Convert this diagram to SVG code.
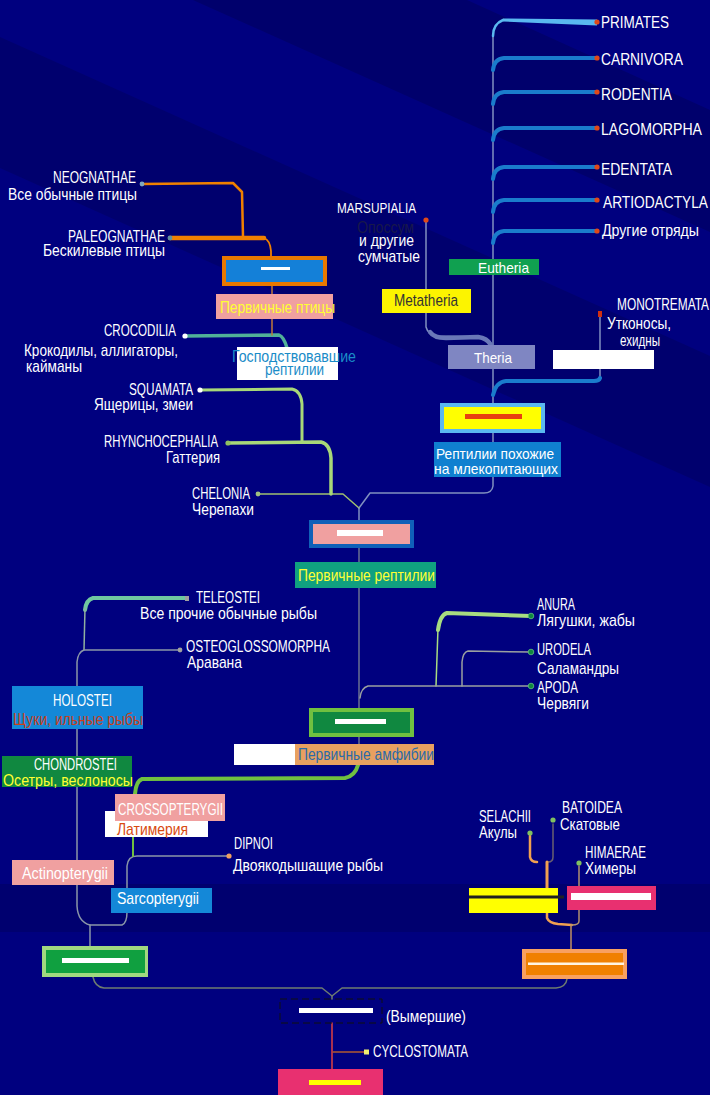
<svg xmlns="http://www.w3.org/2000/svg" width="710" height="1095" viewBox="0 0 710 1095">
<style>
text { font-family: "Liberation Sans", Arial, sans-serif; font-size: 17px; fill: #ffffff; }
.y { fill: #ffff33; }
.s15 { font-size: 15px; }
.c { fill: none; stroke-linecap: round; stroke-linejoin: round; }
.g { stroke: #8090c0; stroke-width: 1.5; }
.mb { stroke: #1a7ccc; stroke-width: 4; }
.fg { stroke: #8a96a8; stroke-width: 1.5; }
.rd { fill: #e04818; }
.wb { fill: #ffffff; }
</style>
<defs>
<g id="mdot"><circle r="2.6" class="rd"/></g>
</defs>
<g id="background">
<rect width="710" height="1095" fill="#00007f"/>
<polygon points="467,0 710,110 710,232 193,0" fill="#00006c"/>
<polygon points="0,37 710,356 710,487 0,168" fill="#00006e"/>
<rect x="0" y="884" width="710" height="48" fill="#00006f"/>
</g>
<g id="connectors" class="c">
<path class="g" d="M493,34 L493,405"/>
<path d="M493,36 Q493,24 503,20" stroke="#5ab8f0" stroke-width="2.5"/>
<polygon points="503,18.5 597,19.5 597,25.5 503,21.5" fill="#5ab8f0" stroke="none"/>
<path class="mb" d="M493,70 Q494,59 504,58 L597,58"/>
<path class="mb" d="M493,104 Q494,93 504,92 L597,92"/>
<path class="mb" d="M493,140 Q494,129 504,128 L597,128"/>
<path class="mb" d="M493,179 Q494,168 504,167 L597,167"/>
<path class="mb" d="M493,212 Q494,201 504,200 L597,200"/>
<path class="mb" d="M493,243 Q494,232 504,231 L597,231"/>
<path class="g" d="M426,220 L426,327 Q428,335 438,336 L480,337 Q489,338 493,347"/>
<path d="M430,332 Q434,338 446,338 L478,337 Q487,338 491,345" stroke="#6a78b8" stroke-width="4.5"/>
<path class="g" d="M600,316 L600,378"/>
<path class="mb" d="M600,378 Q599,381 594,381 L506,381 Q496,382 493,395"/>
<path class="g" d="M493,433 L493,486 Q492,493 484,493 L370,493 L359,508"/>
<path d="M258,494 L343,494 L359,508" stroke="#a0c070" stroke-width="1.5"/>
<path class="g" d="M359,508 L359,520"/>
<path d="M359,548 L359,744" stroke="#6a7090" stroke-width="1.5"/>
<path d="M200,390 L292,389 Q301,391 302,404 L302,442" stroke="#a8d878" stroke-width="3"/>
<path d="M228,443 L321,442 Q330,444 331,458 L331,494" stroke="#a8d878" stroke-width="3.5"/>
<path d="M185,336 L279,335 Q284,337 287,348" stroke="#50b098" stroke-width="3.5"/>
<path d="M142,184 L233,183 L242,192 L243,237" stroke="#f08000" stroke-width="2.5"/>
<path d="M170,238 L264,238" stroke="#f08000" stroke-width="4.5"/>
<path d="M264,238 Q270,240 271,251 L271,256" stroke="#f08000" stroke-width="1.8"/>
<path d="M272,286 L272,335" stroke="#c07838" stroke-width="1.5"/>
<path d="M187,598 L93,598 Q86,600 85,610" stroke="#70c8a0" stroke-width="4"/>
<path d="M85,608 L84,650" stroke="#90b0a0" stroke-width="1.5"/>
<path class="fg" d="M180,650 L84,650 Q78,652 77,662 L77,906 Q78,922 90,925 L122,925 Q127,923 127,912 L127,866 Q128,856 137,856 L229,856"/>
<path class="fg" d="M90,925 L90,946"/>
<path d="M358,765 Q355,776 345,778 L142,779 Q136,781 135,794" stroke="#70c040" stroke-width="4"/>
<path d="M133,837 L133,856" stroke="#70c040" stroke-width="2"/>
<path d="M93,977 Q95,987 104,988 L322,988 L332,996 L342,988 L556,988 Q566,987 567,979" stroke="#6f7c70" stroke-width="1.5"/>
<path d="M332,996 L332,999" stroke="#6f7c70" stroke-width="1.5"/>
<path d="M332,1023 L332,1069" stroke="#e04040" stroke-width="1.5"/>
<path d="M333,1052 L366,1052" stroke="#b05a30" stroke-width="1.5"/>
<path d="M530,836 L530,857 Q531,862 537,862" stroke="#f0a050" stroke-width="2.5"/>
<path d="M553,824 L553,857 Q553,862 548,862" stroke="#6a6070" stroke-width="1.5"/>
<path d="M547,862 L547,888" stroke="#f0a050" stroke-width="3"/>
<path d="M547,913 L547,918 Q549,923 558,924 L572,925" stroke="#f0a050" stroke-width="2.5"/>
<path d="M579,866 L579,886 M579,910 L579,921 Q579,925 572,925" stroke="#b09070" stroke-width="1.5"/>
<path d="M571,925 L571,949" stroke="#c09060" stroke-width="1.5"/>
<path d="M531,616 L447,613 Q440,615 438,630" stroke="#a8dc80" stroke-width="4"/>
<path d="M438,628 L436,686" stroke="#a8dc80" stroke-width="1.5"/>
<path d="M531,652 L468,651 Q463,652 462,662 L462,686" stroke="#9aa0a0" stroke-width="1.5"/>
<path d="M531,686 L368,686 Q361,688 360,698" stroke="#9aa0a0" stroke-width="1.5"/>
</g>
<g id="primates"><use href="#mdot" x="597" y="22"/><text x="601" y="28" textLength="68" lengthAdjust="spacingAndGlyphs">PRIMATES</text></g>
<g id="carnivora"><use href="#mdot" x="597" y="58"/><text x="601" y="65" textLength="82" lengthAdjust="spacingAndGlyphs">CARNIVORA</text></g>
<g id="rodentia"><use href="#mdot" x="597" y="92"/><text x="601" y="100" textLength="71" lengthAdjust="spacingAndGlyphs">RODENTIA</text></g>
<g id="lagomorpha"><use href="#mdot" x="597" y="128"/><text x="601" y="135" textLength="101" lengthAdjust="spacingAndGlyphs">LAGOMORPHA</text></g>
<g id="edentata"><use href="#mdot" x="597" y="167"/><text x="601" y="175" textLength="71" lengthAdjust="spacingAndGlyphs">EDENTATA</text></g>
<g id="artiodactyla"><use href="#mdot" x="597" y="200"/><text x="603" y="208" textLength="105" lengthAdjust="spacingAndGlyphs">ARTIODACTYLA</text></g>
<g id="other-orders"><use href="#mdot" x="597" y="231"/><text x="602" y="236" textLength="97" lengthAdjust="spacingAndGlyphs">Другие отряды</text></g>
<g id="marsupialia"><circle cx="426" cy="220" r="2.6" class="rd"/>
<text x="337" y="213" class="s15" textLength="79" lengthAdjust="spacingAndGlyphs">MARSUPIALIA</text>
<text x="357" y="233" textLength="57" lengthAdjust="spacingAndGlyphs" style="fill:#18184a">Опоссум</text>
<text x="359" y="246" textLength="55" lengthAdjust="spacingAndGlyphs">и другие</text>
<text x="358" y="262" textLength="62" lengthAdjust="spacingAndGlyphs">сумчатые</text></g>
<g id="eutheria"><rect x="449" y="259" width="90" height="16" fill="#10a050"/><text x="478" y="273" class="s15" textLength="51" lengthAdjust="spacingAndGlyphs">Eutheria</text></g>
<g id="metatheria"><rect x="382" y="289" width="89" height="24" fill="#fcf400"/><text x="394" y="306" textLength="64" lengthAdjust="spacingAndGlyphs" style="fill:#333333">Metatheria</text></g>
<g id="theria"><rect x="448" y="345" width="87" height="24" fill="#7f86c2"/><text x="474" y="363" class="s15" textLength="38" lengthAdjust="spacingAndGlyphs">Theria</text></g>
<g id="blank-mammal"><rect x="553" y="350" width="101" height="19" class="wb"/></g>
<g id="monotremata"><rect x="598" y="311" width="4" height="6" fill="#d03010"/>
<text x="617" y="310" textLength="92" lengthAdjust="spacingAndGlyphs">MONOTREMATA</text>
<text x="607" y="329" textLength="64" lengthAdjust="spacingAndGlyphs">Утконосы,</text>
<text x="620" y="346" textLength="40" lengthAdjust="spacingAndGlyphs">ехидны</text></g>
<g id="mammal-like-reptiles"><rect x="440" y="403" width="105" height="30" fill="#5ab8f0"/><rect x="444" y="407" width="97" height="22" fill="#ffff00"/><rect x="465" y="414" width="57" height="5" fill="#e84010"/>
<rect x="434" y="442" width="127" height="35" fill="#1080d0"/>
<text x="436" y="459" class="s15" textLength="118" lengthAdjust="spacingAndGlyphs">Рептилии похожие</text>
<text x="434" y="474" class="s15" textLength="124" lengthAdjust="spacingAndGlyphs">на млекопитающих</text></g>
<g id="neognathae"><circle cx="142" cy="184" r="2.4" fill="#80a8c0"/>
<text x="53" y="183" textLength="83" lengthAdjust="spacingAndGlyphs">NEOGNATHAE</text>
<text x="8" y="200" textLength="129" lengthAdjust="spacingAndGlyphs">Все обычные птицы</text></g>
<g id="paleognathae"><circle cx="170" cy="238" r="2.4" fill="#6090a0"/>
<text x="68" y="242" textLength="97" lengthAdjust="spacingAndGlyphs">PALEOGNATHAE</text>
<text x="43" y="256" textLength="122" lengthAdjust="spacingAndGlyphs">Бескилевые птицы</text></g>
<g id="birds"><rect x="222" y="256" width="105" height="30" fill="#e87800"/><rect x="226" y="260" width="97" height="22" fill="#1480d8"/><rect x="261" y="267" width="29" height="3" class="wb"/>
<rect x="216" y="294" width="117" height="25" fill="#f0a0a0"/>
<text x="220" y="313" class="y" textLength="115" lengthAdjust="spacingAndGlyphs">Первичные птицы</text></g>
<g id="crocodilia"><circle cx="185" cy="336" r="2.6" fill="#ffffff"/>
<text x="104" y="336" textLength="72" lengthAdjust="spacingAndGlyphs">CROCODILIA</text>
<text x="24" y="356" textLength="154" lengthAdjust="spacingAndGlyphs">Крокодилы, аллигаторы,</text>
<text x="26" y="372" textLength="56" lengthAdjust="spacingAndGlyphs">кайманы</text></g>
<g id="archosaurs"><rect x="237" y="347" width="101" height="33" class="wb"/>
<text x="232" y="362" textLength="124" lengthAdjust="spacingAndGlyphs" style="fill:#1a8cc8">Господствовавшие</text>
<text x="265" y="375" textLength="59" lengthAdjust="spacingAndGlyphs" style="fill:#1a8cc8">рептилии</text></g>
<g id="squamata"><circle cx="200" cy="390" r="2.6" fill="#ffffff"/>
<text x="129" y="395" textLength="64" lengthAdjust="spacingAndGlyphs">SQUAMATA</text>
<text x="94" y="410" textLength="99" lengthAdjust="spacingAndGlyphs">Ящерицы, змеи</text></g>
<g id="rhynchocephalia"><circle cx="228" cy="443" r="2.6" fill="#90c060"/>
<text x="104" y="447" textLength="114" lengthAdjust="spacingAndGlyphs">RHYNCHOCEPHALIA</text>
<text x="166" y="463" textLength="54" lengthAdjust="spacingAndGlyphs">Гаттерия</text></g>
<g id="chelonia"><circle cx="258" cy="494" r="2.4" fill="#a0c080"/>
<text x="192" y="499" textLength="58" lengthAdjust="spacingAndGlyphs">CHELONIA</text>
<text x="192" y="515" textLength="62" lengthAdjust="spacingAndGlyphs">Черепахи</text></g>
<g id="primitive-reptiles"><rect x="309" y="520" width="105" height="28" fill="#1060b8"/><rect x="313" y="524" width="97" height="20" fill="#f0a0a0"/><rect x="337" y="530" width="46" height="6" class="wb"/>
<rect x="295" y="562" width="141" height="26" fill="#10a080"/>
<text x="298" y="581" class="y" textLength="137" lengthAdjust="spacingAndGlyphs">Первичные рептилии</text></g>
<g id="teleostei"><rect x="185" y="596" width="4" height="5" fill="#a0a0a0"/>
<text x="196" y="603" textLength="64" lengthAdjust="spacingAndGlyphs">TELEOSTEI</text>
<text x="140" y="619" textLength="177" lengthAdjust="spacingAndGlyphs">Все прочие обычные рыбы</text></g>
<g id="osteoglossomorpha"><circle cx="180" cy="650" r="2.4" fill="#a0a0a0"/>
<text x="186" y="652" textLength="144" lengthAdjust="spacingAndGlyphs">OSTEOGLOSSOMORPHA</text>
<text x="187" y="668" textLength="55" lengthAdjust="spacingAndGlyphs">Аравана</text></g>
<g id="holostei"><rect x="12" y="686" width="131" height="43" fill="#1488d8"/>
<text x="53" y="706" textLength="59" lengthAdjust="spacingAndGlyphs">HOLOSTEI</text>
<text x="13" y="725" textLength="130" lengthAdjust="spacingAndGlyphs" style="fill:#c8401a">Щуки, ильные рыбы</text></g>
<g id="chondrostei"><rect x="2" y="756" width="130" height="31" fill="#108840"/>
<text x="34" y="770" textLength="83" lengthAdjust="spacingAndGlyphs">CHONDROSTEI</text>
<text x="3" y="786" class="y" textLength="130" lengthAdjust="spacingAndGlyphs">Осетры, веслоносы</text></g>
<g id="anura"><circle cx="531" cy="616" r="2.8" fill="#108840" stroke="#60c080" stroke-width="0.8"/>
<text x="537" y="610" textLength="38" lengthAdjust="spacingAndGlyphs">ANURA</text>
<text x="537" y="626" textLength="98" lengthAdjust="spacingAndGlyphs">Лягушки, жабы</text></g>
<g id="urodela"><circle cx="531" cy="652" r="2.8" fill="#108840" stroke="#60c080" stroke-width="0.8"/>
<text x="537" y="655" textLength="54" lengthAdjust="spacingAndGlyphs">URODELA</text>
<text x="537" y="674" textLength="82" lengthAdjust="spacingAndGlyphs">Саламандры</text></g>
<g id="apoda"><circle cx="531" cy="686" r="2.8" fill="#108840" stroke="#60c080" stroke-width="0.8"/>
<text x="537" y="693" textLength="41" lengthAdjust="spacingAndGlyphs">APODA</text>
<text x="537" y="709" textLength="52" lengthAdjust="spacingAndGlyphs">Червяги</text></g>
<g id="primitive-amphibians"><rect x="309" y="708" width="105" height="29" fill="#70c040"/><rect x="313" y="712" width="97" height="21" fill="#108840"/><rect x="335" y="719" width="51" height="5" class="wb"/>
<rect x="234" y="744" width="61" height="21" class="wb"/>
<rect x="295" y="744" width="139" height="21" fill="#e8a060"/>
<text x="298" y="760" textLength="136" lengthAdjust="spacingAndGlyphs" style="fill:#2a6aa8">Первичные амфибии</text></g>
<g id="crossopterygii"><rect x="105" y="811" width="103" height="26" class="wb"/>
<rect x="115" y="794" width="110" height="27" fill="#f0a0a0"/>
<text x="118" y="815" textLength="105" lengthAdjust="spacingAndGlyphs">CROSSOPTERYGII</text>
<text x="117" y="835" textLength="71" lengthAdjust="spacingAndGlyphs" style="fill:#d84a10">Латимерия</text></g>
<g id="dipnoi"><circle cx="229" cy="856" r="2.6" fill="#f0a060"/>
<text x="234" y="849" textLength="39" lengthAdjust="spacingAndGlyphs">DIPNOI</text>
<text x="233" y="871" textLength="150" lengthAdjust="spacingAndGlyphs">Двоякодышащие рыбы</text></g>
<g id="actinopterygii"><rect x="12" y="860" width="102" height="25" fill="#f0a0a0"/>
<text x="22" y="879" textLength="86" lengthAdjust="spacingAndGlyphs">Actinopterygii</text></g>
<g id="sarcopterygii"><rect x="111" y="888" width="101" height="25" fill="#1488d8"/>
<text x="117" y="904" textLength="82" lengthAdjust="spacingAndGlyphs">Sarcopterygii</text></g>
<g id="bony-fish"><rect x="42" y="946" width="106" height="31" fill="#a0d880"/><rect x="46" y="950" width="99" height="23" fill="#10a040"/><rect x="62" y="958" width="67" height="5" class="wb"/></g>
<g id="selachii"><circle cx="530" cy="833" r="2.6" fill="#80c060"/>
<text x="479" y="822" textLength="52" lengthAdjust="spacingAndGlyphs">SELACHII</text>
<text x="479" y="838" textLength="38" lengthAdjust="spacingAndGlyphs">Акулы</text></g>
<g id="batoidea"><circle cx="553" cy="820" r="2.6" fill="#80c060"/>
<text x="562" y="813" textLength="60" lengthAdjust="spacingAndGlyphs">BATOIDEA</text>
<text x="560" y="830" textLength="60" lengthAdjust="spacingAndGlyphs">Скатовые</text></g>
<g id="himaerae"><circle cx="579" cy="863" r="2.6" fill="#80c060"/>
<text x="585" y="858" textLength="61" lengthAdjust="spacingAndGlyphs">HIMAERAE</text>
<text x="585" y="874" textLength="51" lengthAdjust="spacingAndGlyphs">Химеры</text></g>
<g id="sharks-rays"><rect x="469" y="888" width="89" height="25" fill="#ffff00"/><path d="M469,897 L564,897" stroke="#202020" stroke-width="3"/></g>
<g id="chimaeras"><rect x="567" y="886" width="89" height="24" fill="#e83070"/><rect x="571" y="893" width="80" height="7" class="wb"/></g>
<g id="cartilaginous-fish"><rect x="522" y="949" width="105" height="30" fill="#f8a060"/><rect x="526" y="953" width="97" height="22" fill="#f08000"/><rect x="528" y="962.5" width="96" height="2.5" fill="#fff4e0"/></g>
<g id="extinct"><rect x="280" y="999" width="102" height="24" fill="none" stroke="#111111" stroke-width="1" stroke-dasharray="7,4"/><rect x="299" y="1008" width="74" height="5" class="wb"/>
<text x="386" y="1022" textLength="80" lengthAdjust="spacingAndGlyphs">(Вымершие)</text></g>
<g id="cyclostomata"><rect x="364" y="1049.5" width="5" height="5" fill="#f0f070"/>
<text x="373" y="1057" textLength="95" lengthAdjust="spacingAndGlyphs">CYCLOSTOMATA</text></g>
<g id="jawless-root"><rect x="278" y="1069" width="105" height="26" fill="#e83070"/><rect x="309" y="1080" width="52" height="5" fill="#ffff00"/></g>
</svg>
